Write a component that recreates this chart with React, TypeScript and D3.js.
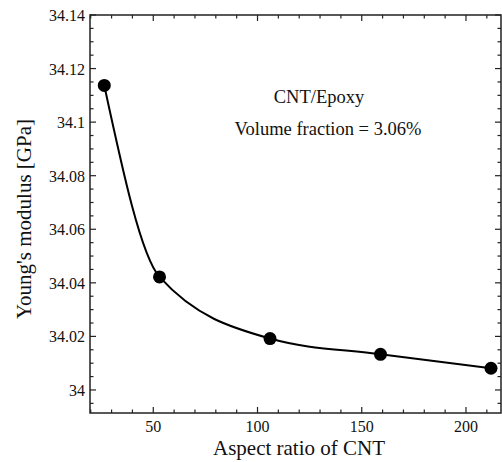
import React from "react";
import * as d3 from "d3";

// Aspect ratio of the nanotubes and the resulting composite modulus
const aspectRatios = [26.5, 53, 106, 159, 212];
const modulusGPa = [34.1137, 34.0422, 34.0192, 34.0133, 34.0081];

const xMajorTicks = [50, 100, 150, 200];
const yMajorTicks = [34, 34.02, 34.04, 34.06, 34.08, 34.1, 34.12, 34.14];

const W = 502;
const H = 462;
const plot = { left: 90, top: 15, right: 501, bottom: 413 };
const font = "Liberation Serif, Times New Roman, serif";

export default function App() {
  const x = d3.scaleLinear().domain([19.65, 216.8]).range([plot.left, plot.right]);
  const y = d3.scaleLinear().domain([33.9914, 34.14]).range([plot.bottom, plot.top]);

  const xMinor = d3.range(20, 220, 10).filter((v) => v % 50 !== 0);
  const yMinor = d3
    .range(0, 30)
    .map((i) => +(33.995 + i * 0.005).toFixed(3))
    .filter((v) => v <= 34.14 && Math.abs(Math.round(v * 50) - v * 50) > 1e-6);

  const pts = aspectRatios.map((a, i) => [a, modulusGPa[i]] as [number, number]);
  const line = d3
    .line<[number, number]>()
    .x((d) => x(d[0]))
    .y((d) => y(d[1]))
    .curve(d3.curveMonotoneX);

  const major = 6;
  const minor = 3.5;
  const tickStroke = { stroke: "#222", strokeWidth: 1.2 };

  return (
    <svg width={W} height={H} style={{ position: "absolute", left: 0, top: 0, background: "#fff" }}>
      <rect x={0} y={0} width={W} height={H} fill="#fff" />
      {/* x ticks top and bottom */}
      {xMajorTicks.map((t) => (
        <g key={"xm" + t}>
          <line x1={x(t)} x2={x(t)} y1={plot.bottom} y2={plot.bottom - major} {...tickStroke} />
          <line x1={x(t)} x2={x(t)} y1={plot.top} y2={plot.top + major} {...tickStroke} />
          <text x={x(t)} y={plot.bottom + 19} textAnchor="middle" fontFamily={font} fontSize={16} fill="#111">
            {t}
          </text>
        </g>
      ))}
      {xMinor.map((t) => (
        <g key={"xn" + t}>
          <line x1={x(t)} x2={x(t)} y1={plot.bottom} y2={plot.bottom - minor} {...tickStroke} />
          <line x1={x(t)} x2={x(t)} y1={plot.top} y2={plot.top + minor} {...tickStroke} />
        </g>
      ))}
      {/* y ticks left and right */}
      {yMajorTicks.map((t) => (
        <g key={"ym" + t}>
          <line x1={plot.left} x2={plot.left + major} y1={y(t)} y2={y(t)} {...tickStroke} />
          <line x1={plot.right} x2={plot.right - major} y1={y(t)} y2={y(t)} {...tickStroke} />
          <text x={plot.left - 5} y={y(t) + 6} textAnchor="end" fontFamily={font} fontSize={16} fill="#111">
            {d3.format("")(t)}
          </text>
        </g>
      ))}
      {yMinor.map((t) => (
        <g key={"yn" + t}>
          <line x1={plot.left} x2={plot.left + minor} y1={y(t)} y2={y(t)} {...tickStroke} />
          <line x1={plot.right} x2={plot.right - minor} y1={y(t)} y2={y(t)} {...tickStroke} />
        </g>
      ))}
      <rect
        x={plot.left}
        y={plot.top}
        width={plot.right - plot.left}
        height={plot.bottom - plot.top}
        fill="none"
        stroke="#222"
        strokeWidth={1.5}
      />
      <path d={line(pts) || ""} fill="none" stroke="#000" strokeWidth={2} />
      {pts.map((p, i) => (
        <circle key={i} cx={x(p[0])} cy={y(p[1])} r={6.5} fill="#000" />
      ))}
      <text x={319} y={103} textAnchor="middle" fontFamily={font} fontSize={18.5} fill="#111">
        CNT/Epoxy
      </text>
      <text x={328} y={135} textAnchor="middle" fontFamily={font} fontSize={18.5} fill="#111">
        Volume fraction = 3.06%
      </text>
      <text x={299} y={455} textAnchor="middle" fontFamily={font} fontSize={21} fill="#111">
        Aspect ratio of CNT
      </text>
      <text
        transform={`translate(31, 219) rotate(-90)`}
        textAnchor="middle"
        fontFamily={font}
        fontSize={21}
        fill="#111"
      >
        Young's modulus [GPa]
      </text>
    </svg>
  );
}
